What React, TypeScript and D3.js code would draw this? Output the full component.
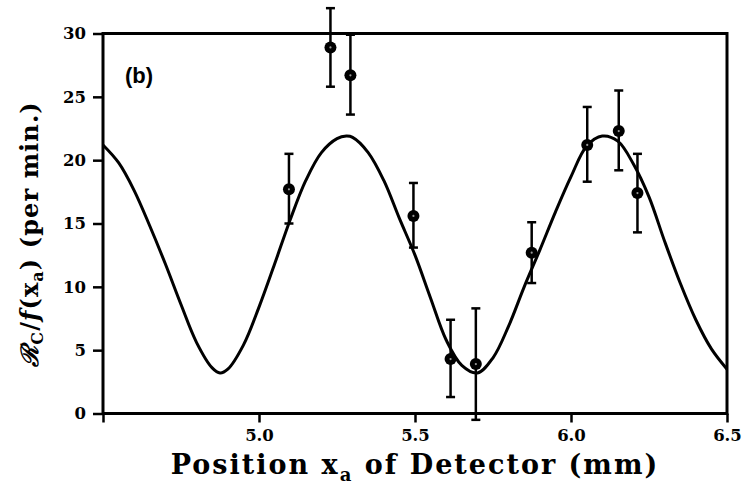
import * as d3 from "d3";
import { useEffect, useRef } from "react";

// fitted curve
const curveX = [4.5, 4.55, 4.6, 4.65, 4.7, 4.75, 4.8, 4.85, 4.875, 4.9, 4.95, 5.0, 5.05, 5.1, 5.15, 5.2, 5.25, 5.28, 5.3, 5.35, 5.4, 5.45, 5.5, 5.55, 5.6, 5.65, 5.7, 5.75, 5.8, 5.85, 5.9, 5.95, 6.0, 6.05, 6.1, 6.15, 6.2, 6.25, 6.3, 6.35, 6.4, 6.45, 6.5];
const curveY = [21.2, 19.8, 17.6, 14.8, 11.8, 8.6, 5.6, 3.6, 3.2, 3.5, 5.4, 8.4, 11.8, 15.3, 18.4, 20.6, 21.7, 21.9, 21.8, 20.6, 18.4, 15.4, 12.5, 9.1, 5.8, 3.8, 3.2, 4.4, 6.9, 10.0, 12.9, 15.9, 18.7, 21.1, 21.9, 21.5, 19.7, 17.1, 13.6, 10.3, 7.4, 5.1, 3.5];

// measured points with error bars
const pointX = [5.096, 5.229, 5.293, 5.495, 5.614, 5.695, 5.874, 6.052, 6.153, 6.213];
const pointY = [17.7, 28.9, 26.7, 15.6, 4.3, 3.9, 12.7, 21.2, 22.3, 17.4];
const errLow = [15.0, 25.8, 23.6, 13.1, 1.3, -0.5, 10.3, 18.3, 19.2, 14.3];
const errHigh = [20.5, 32.0, 29.9, 18.2, 7.4, 8.3, 15.1, 24.2, 25.5, 20.5];

const xTicks = [4.5, 5.0, 5.5, 6.0, 6.5];
const yTicks = [0, 5, 10, 15, 20, 25, 30];

const FONT = "'DejaVu Serif', serif";

function drawChart(element: SVGSVGElement) {
    const margin = { top: 33.5, right: 28, bottom: 78.5, left: 103 },
        width = 755 - margin.left - margin.right,
        height = 492 - margin.top - margin.bottom;

    const root = d3.select(element);
    root.selectAll("*").remove();

    const svg = root.append("g")
        .attr("transform", "translate(" + margin.left + "," + margin.top + ")");

    const x = d3.scaleLinear().domain([4.5, 6.5]).range([0, width]);
    const y = d3.scaleLinear().domain([0, 30]).range([height, 0]);

    // Y axis
    const yAxis = svg.append("g")
        .call(d3.axisLeft(y).tickValues(yTicks).tickSize(10).tickPadding(7));
    yAxis.select(".domain").remove();
    yAxis.selectAll("line").attr("stroke", "#000").attr("stroke-width", 2.5);
    yAxis.selectAll("text")
        .attr("font-family", FONT)
        .attr("font-weight", "bold")
        .attr("font-size", 16.5)
        .attr("fill", "#000");

    // X axis
    const xAxis = svg.append("g")
        .attr("transform", "translate(0," + height + ")")
        .call(d3.axisBottom(x).tickValues(xTicks).tickSize(9).tickPadding(7)
            .tickFormat((d) => (d === 4.5 ? "" : d3.format(".1f")(d as number))));
    xAxis.select(".domain").remove();
    xAxis.selectAll("line").attr("stroke", "#000").attr("stroke-width", 2.5);
    xAxis.selectAll("text")
        .attr("font-family", FONT)
        .attr("font-weight", "bold")
        .attr("font-size", 16.5)
        .attr("fill", "#000");

    // frame
    svg.append("rect")
        .attr("x", 0).attr("y", 0)
        .attr("width", width).attr("height", height)
        .attr("fill", "none")
        .attr("stroke", "#000")
        .attr("stroke-width", 3);

    // fitted curve
    const line = d3.line<number>()
        .x((d, i) => x(curveX[i]))
        .y((d) => y(d))
        .curve(d3.curveCatmullRom.alpha(0.5));
    svg.append("path")
        .datum(curveY)
        .attr("d", line)
        .attr("fill", "none")
        .attr("stroke", "#000")
        .attr("stroke-width", 3);

    // error bars
    const pts = pointX.map((px, i) => ({ x: px, y: pointY[i], lo: errLow[i], hi: errHigh[i] }));
    const bars = svg.selectAll("g.bar")
        .data(pts)
        .enter()
        .append("g")
        .attr("class", "bar")
        .attr("stroke", "#000")
        .attr("stroke-width", 2.5);
    bars.append("line")
        .attr("x1", (d) => x(d.x)).attr("x2", (d) => x(d.x))
        .attr("y1", (d) => y(d.lo)).attr("y2", (d) => y(d.hi));
    bars.append("line")
        .attr("x1", (d) => x(d.x) - 4.5).attr("x2", (d) => x(d.x) + 4.5)
        .attr("y1", (d) => y(d.lo)).attr("y2", (d) => y(d.lo));
    bars.append("line")
        .attr("x1", (d) => x(d.x) - 4.5).attr("x2", (d) => x(d.x) + 4.5)
        .attr("y1", (d) => y(d.hi)).attr("y2", (d) => y(d.hi));

    // points
    svg.selectAll("circle.pt")
        .data(pts)
        .enter()
        .append("circle")
        .attr("class", "pt")
        .attr("cx", (d) => x(d.x))
        .attr("cy", (d) => y(d.y))
        .attr("r", 6)
        .attr("fill", "#000");
    svg.selectAll("circle.dot")
        .data(pts)
        .enter()
        .append("circle")
        .attr("class", "dot")
        .attr("cx", (d) => x(d.x))
        .attr("cy", (d) => y(d.y))
        .attr("r", 1.1)
        .attr("fill", "#999");

    // panel label
    svg.append("text")
        .attr("x", 22).attr("y", 49)
        .attr("font-family", "'Liberation Sans', sans-serif")
        .attr("font-weight", "bold")
        .attr("font-size", 22)
        .text("(b)");

    // x title
    const xt = root.append("text")
        .attr("x", margin.left + width / 2)
        .attr("y", 474)
        .attr("text-anchor", "middle")
        .attr("font-family", FONT)
        .attr("font-weight", "bold")
        .attr("font-size", 27)
        .attr("letter-spacing", 2);
    xt.append("tspan").text("Position x");
    xt.append("tspan").attr("dy", 7).attr("font-size", 18).text("a");
    xt.append("tspan").attr("dy", -7).text(" of Detector (mm)");

    // y title
    const yt = root.append("text")
        .attr("transform", "translate(38,234) rotate(-90)")
        .attr("text-anchor", "middle")
        .attr("font-family", FONT)
        .attr("font-weight", "bold")
        .attr("font-size", 24)
        .attr("letter-spacing", 1.1);
    yt.append("tspan").attr("font-style", "italic").text("ℛ");
    yt.append("tspan").attr("dy", 5).attr("font-size", 16).text("C");
    yt.append("tspan").attr("dy", -5).text("/");
    yt.append("tspan").attr("font-style", "italic").text("f");
    yt.append("tspan").text("(x");
    yt.append("tspan").attr("dy", 5).attr("font-size", 16).text("a");
    yt.append("tspan").attr("dy", -5).text(") (per min.)");
}

export default function App() {
    const ref = useRef<SVGSVGElement>(null);
    useEffect(() => {
        if (ref.current) drawChart(ref.current);
    }, []);
    return (
        <svg ref={ref} width={755} height={492}
            style={{ position: "absolute", left: 0, top: 0, background: "#fff" }} />
    );
}
